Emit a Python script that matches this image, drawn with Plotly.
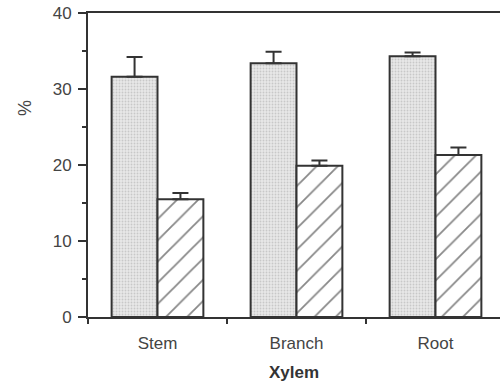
import plotly.graph_objects as go

categories = ["Stem", "Branch", "Root"]
stippled_vals = [31.6, 33.4, 34.3]
stippled_err = [2.6, 1.5, 0.5]
hatched_vals = [15.5, 19.9, 21.3]
hatched_err = [0.8, 0.7, 1.0]
y_ticks = [0, 10, 20, 30, 40]

ink = "#333333"
font = dict(family="Liberation Sans, Arial, sans-serif", size=17, color="#444444")

fig = go.Figure()
fig.add_trace(go.Bar(
    x=categories, y=stippled_vals,
    marker=dict(color="#e2e2e2", line=dict(color=ink, width=2),
                pattern=dict(shape=".", fgcolor="#a8a8a8", bgcolor="#e8e8e8", size=3, solidity=0.3)),
    error_y=dict(type="data", symmetric=False, array=stippled_err, arrayminus=[0]*3,
                 color=ink, thickness=2, width=8),
    showlegend=False,
))
fig.add_trace(go.Bar(
    x=categories, y=hatched_vals,
    marker=dict(color="white", line=dict(color=ink, width=2),
                pattern=dict(shape="/", fgcolor="#111111", bgcolor="white", size=15, solidity=0.12)),
    error_y=dict(type="data", symmetric=False, array=hatched_err, arrayminus=[0]*3,
                 color=ink, thickness=2, width=8),
    showlegend=False,
))

fig.update_layout(
    width=500, height=383,
    margin=dict(l=88, r=0, t=13, b=66),
    paper_bgcolor="white", plot_bgcolor="white",
    barmode="group", bargap=0.34, bargroupgap=0,
    font=font,
    xaxis=dict(
        type="category", range=[-0.5, 2.464],
        showline=True, linecolor=ink, linewidth=2, mirror=True,
        ticks="outside", tickson="boundaries", ticklen=5, tickwidth=2, tickcolor=ink,
        ticklabelstandoff=10,
        showgrid=False, zeroline=False,
        title=dict(text="<b>Xylem</b>", font=dict(size=17, color="#333333"), standoff=14),
    ),
    yaxis=dict(
        range=[0, 40], tickvals=y_ticks,
        showline=True, linecolor=ink, linewidth=2,
        ticks="outside", ticklen=8, tickwidth=2, tickcolor=ink,
        ticklabelstandoff=3,
        minor=dict(dtick=5, ticks="outside", ticklen=4, tickwidth=2, tickcolor=ink),
        showgrid=False, zeroline=False,
    ),
    annotations=[dict(text="%", xref="paper", yref="paper", x=-0.153, y=0.6875,
                      xanchor="center", yanchor="middle",
                      showarrow=False, textangle=-90, font=dict(size=18, color="#444444"))],
)

fig.write_html("out.html")
